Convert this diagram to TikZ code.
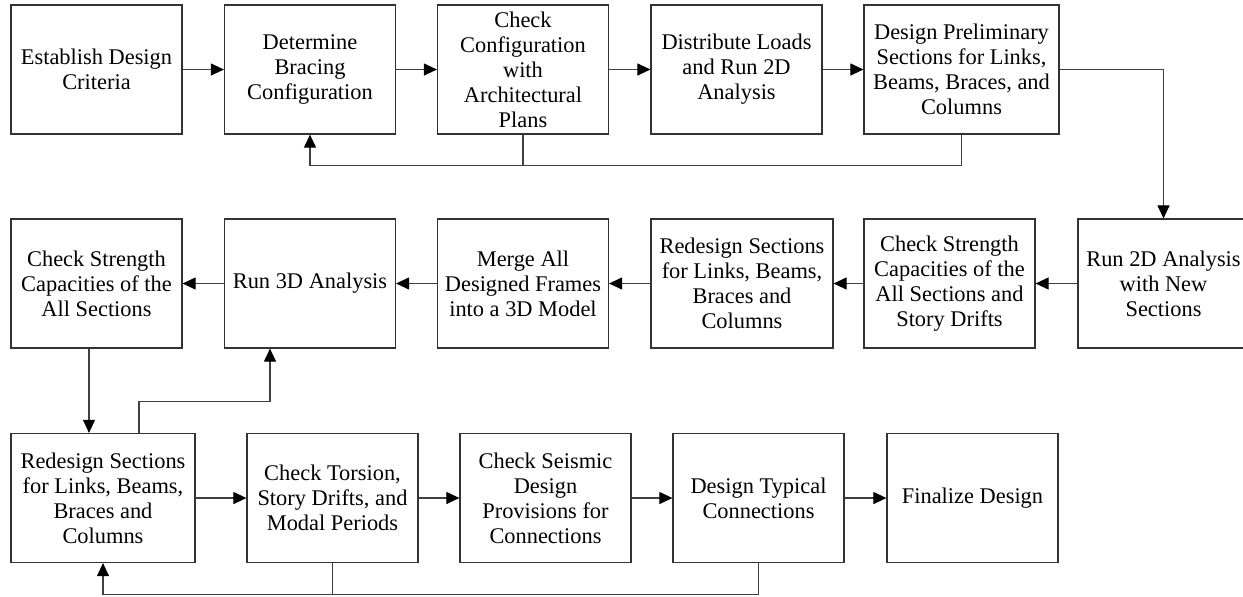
\documentclass[tikz,border=0pt]{standalone}
\usepackage{fontspec}
\setmainfont{Liberation Serif}
\usetikzlibrary{arrows.meta}

\tikzset{
  stepbox/.style={draw=black!80, line width=0.6pt, minimum width=85.5pt, minimum height=64.5pt,
    align=center, inner sep=1pt, font=\fontsize{11.2}{12.5}\selectfont},
  arr/.style={draw=black!75, line width=0.55pt, -{Triangle[length=6.5pt,width=6pt,color=black]}},
  plain/.style={draw=black!75, line width=0.55pt},
}

\begin{document}
\begin{tikzpicture}[x=0.5pt, y=-0.5pt]
        \useasboundingbox (0,0) rectangle (1243,596);
        \node[stepbox] (a1) at (96.5,69.5) {Establish Design\\Criteria};
        \node[stepbox] (a2) at (310,69.5) {Determine\\Bracing\\Configuration};
        \node[stepbox] (a3) at (523,69.5) {Check\\Configuration\\with\\Architectural\\Plans};
        \node[stepbox] (a4) at (736.5,69.5) {Distribute Loads\\and Run 2D\\Analysis};
        \node[stepbox, minimum width=97.5pt] (a5) at (961.5,69.5) {Design Preliminary\\Sections for Links,\\Beams, Braces, and\\Columns};
        \node[stepbox] (b1) at (96.5,283.5) {Check Strength\\Capacities of the\\All Sections};
        \node[stepbox] (b2) at (310,283.5) {Run 3D Analysis};
        \node[stepbox] (b3) at (523,283.5) {Merge All\\Designed Frames\\into a 3D Model};
        \node[stepbox, minimum width=91pt] (b4) at (742,283.5) {Redesign Sections\\for Links, Beams,\\Braces and\\Columns};
        \node[stepbox] (b5) at (949.5,283.5) {Check Strength\\Capacities of the\\All Sections and\\Story Drifts};
        \node[stepbox] (b6) at (1163.5,283.5) {Run 2D Analysis\\with New\\Sections};
        \node[stepbox, minimum width=92pt] (c1) at (103,498) {Redesign Sections\\for Links, Beams,\\Braces and\\Columns};
        \node[stepbox] (c2) at (332.5,498) {Check Torsion,\\Story Drifts, and\\Modal Periods};
        \node[stepbox] (c3) at (545.5,498) {Check Seismic\\Design\\Provisions for\\Connections};
        \node[stepbox] (c4) at (758.5,498) {Design Typical\\Connections};
        \node[stepbox] (c5) at (972.5,498) {Finalize Design};
        \draw[arr] (a1.east) -- (a2.west);
        \draw[arr] (a2.east) -- (a3.west);
        \draw[arr] (a3.east) -- (a4.west);
        \draw[arr] (a4.east) -- (a5.west);
        \draw[arr] (a5.south) -- ++(0,31) -| (a2.south);
        \draw[plain] (a3.south) -- ++(0,31);
        \draw[arr] (a5.east) -| (b6.north);
        \draw[arr] (b6.west) -- (b5.east);
        \draw[arr] (b5.west) -- (b4.east);
        \draw[arr] (b4.west) -- (b3.east);
        \draw[arr] (b3.west) -- (b2.east);
        \draw[arr] (b2.west) -- (b1.east);
        \draw[arr] ([xshift=-3.75pt]b1.south) -- ([xshift=-3.75pt]b1.south |- c1.north);
        \draw[arr] ([xshift=18pt]c1.north) -- ++(0,-31) -| ([xshift=-20pt]b2.south);
        \draw[arr] (c1.east) -- (c2.west);
        \draw[arr] (c2.east) -- (c3.west);
        \draw[arr] (c3.east) -- (c4.west);
        \draw[arr] (c4.east) -- (c5.west);
        \draw[arr] (c4.south) -- ++(0,31) -| (c1.south);
        \draw[plain] (c2.south) -- ++(0,31);
    \end{tikzpicture}
\end{document}
